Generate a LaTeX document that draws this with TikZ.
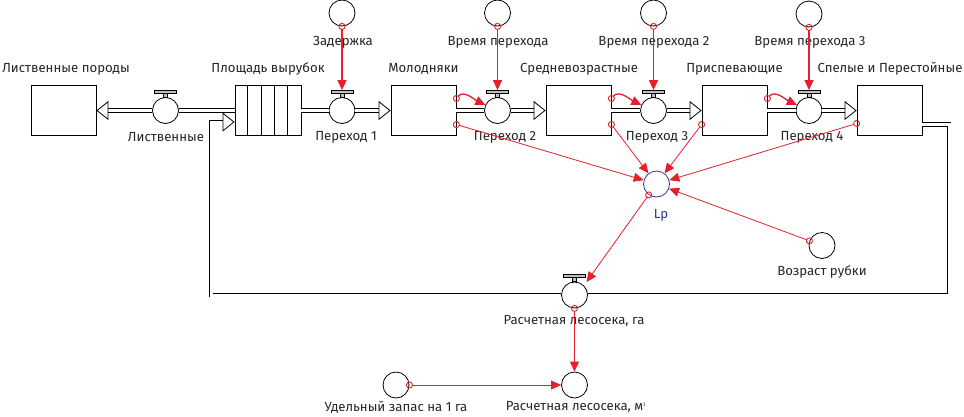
\documentclass[tikz,border=0pt]{standalone}
\usepackage{fontspec}
\setmainfont{Fira Sans}
\usepackage{tikz}
\usetikzlibrary{arrows.meta, positioning}

\definecolor{linkred}{RGB}{228,32,44}
\definecolor{lpblue}{RGB}{46,52,140}

\begin{document}
\begin{tikzpicture}[x=1pt, y=1pt, every node/.style={font=\fontsize{13.2}{15}\selectfont, text=black!85},
    stock/.style={draw, line width=0.8pt, minimum width=65pt, minimum height=50pt, inner sep=0pt},
    valve/.style={draw, circle, fill=white, line width=0.8pt, minimum size=26pt, inner sep=0pt},
    aux/.style={draw, circle, line width=0.8pt, minimum size=26pt, inner sep=0pt},
    handle/.style={draw, line width=0.6pt, fill=black!25},
    pipe/.style={draw, line width=0.7pt, double=white, double distance=3pt},
    pipehead/.style={-{Triangle[open, length=12pt, width=19pt, line width=0.8pt]}},
    link/.style={draw=linkred, line width=1.3pt, shorten <=-3.5pt,
      {Circle[open, length=7pt, width=7pt, line width=0.9pt, linkred]}-{Triangle[length=10pt, width=9pt, linkred]}},
    thinlink/.style={link, line width=0.8pt}]
  \useasboundingbox (0,0) rectangle (964,-416);
  % stocks
  \node[stock] (LP) at (63.5,-110.5) {};
  \node[stock, minimum width=66pt] (PV) at (268,-110.5) {};
  \foreach \i in {1,...,4} \draw[line width=0.8pt] ([xshift=\i*13.2pt]PV.south west) -- ([xshift=\i*13.2pt]PV.north west);
  \node[stock] (MO) at (423.5,-110.5) {};
  \node[stock] (SR) at (578.5,-110.5) {};
  \node[stock] (PR) at (734.5,-110.5) {};
  \node[stock] (SP) at (889.5,-110.5) {};
  % valves
  \node[valve] (vL) at (165.5,-110.5) {};
  \node[valve] (v1) at (342,-110.5) {};
  \node[valve] (v2) at (497.5,-110.5) {};
  \node[valve] (v3) at (653.5,-110.5) {};
  \node[valve] (v4) at (809,-110.5) {};
  \node[valve] (vR) at (574.5,-295) {};
  \foreach \v in {vL,v1,v2,v3,v4,vR} {
    \draw[handle] ([xshift=-2pt]\v.north) rectangle ([xshift=2pt,yshift=4pt]\v.north);
    \draw[handle] ([xshift=-11pt,yshift=4pt]\v.north) rectangle ([xshift=11pt,yshift=7pt]\v.north);
  }
  % auxiliaries
  \node[aux] (dZ) at (342,-13) {};
  \node[aux] (t1) at (497.5,-13) {};
  \node[aux] (t2) at (653.5,-13) {};
  \node[aux] (t3) at (809,-14) {};
  \node[aux, draw=lpblue] (Lp) at (656.5,-184) {};
  \node[aux] (age) at (822,-245.5) {};
  \node[aux] (vol) at (574.5,-385) {};
  \node[aux] (spec) at (396,-385) {};
  % labels
  \node (lLP) at (66,-69) {Лиственные породы};
  \node (lPV) at (268,-69) {Площадь вырубок};
  \node (lMO) at (423.5,-69) {Молодняки};
  \node (lSR) at (579,-69) {Средневозрастные};
  \node (lPR) at (734.5,-69) {Приспевающие};
  \node (lSP) at (890,-69) {Спелые и Перестойные};
  \node (ldZ) at (343,-42) {Задержка};
  \node (lt1) at (498,-42) {Время перехода};
  \node (lt2) at (654,-42) {Время перехода 2};
  \node (lt3) at (810,-42) {Время перехода 3};
  \node (lvL) at (166,-137) {Лиственные};
  \node (lv1) at (346,-137) {Переход 1};
  \node (lv2) at (505,-137) {Переход 2};
  \node (lv3) at (657,-137) {Переход 3};
  \node (lv4) at (812,-137) {Переход 4};
  \node[text=lpblue] (lLp) at (661,-215) {Lp};
  \node (lage) at (822,-272) {Возраст рубки};
  \node (lvR) at (574,-321) {Расчетная лесосека, га};
  \node (lspec) at (396,-407) {Удельный запас на 1 га};
  \node (lvol) at (576,-407) {Расчетная лесосека, м\textsuperscript{\tiny 3}};
  % pipes
  \draw[pipe] (PV.west) -- (vL);
  \draw[pipe, pipehead] (vL) -- (LP.east);
  \draw[pipe] (PV.east) -- (v1);
  \draw[pipe, pipehead] (v1) -- (MO.west);
  \draw[pipe] (MO.east) -- (v2);
  \draw[pipe, pipehead] (v2) -- (SR.west);
  \draw[pipe] (SR.east) -- (v3);
  \draw[pipe, pipehead] (v3) -- (PR.west);
  \draw[pipe] (PR.east) -- (v4);
  \draw[pipe, pipehead] (v4) -- (SP.west);
  \coordinate (cR) at (949,-295);
  \coordinate (cL) at (211,-295);
  \draw[pipe] ([yshift=-14pt]SP.east) -| (cR) -- (vR);
  \draw[pipe, pipehead] (vR) -- (cL) |- ([yshift=-11.5pt]PV.west);
  % links
  \draw[link] (dZ.south) -- ([yshift=7pt]v1.north);
  \draw[link] (t1.south) -- ([yshift=7pt]v2.north);
  \draw[link] (t2.south) -- ([yshift=7pt]v3.north);
  \draw[link] (t3.south) -- ([yshift=7pt]v4.north);
  \draw[link] ([yshift=12pt]MO.east) to[out=50, in=155] (v2.155);
  \draw[link] ([yshift=12pt]SR.east) to[out=50, in=155] (v3.155);
  \draw[link] ([yshift=12pt]PR.east) to[out=50, in=155] (v4.155);
  \draw[thinlink] ([yshift=-14pt]MO.east) -- (Lp);
  \draw[thinlink] ([yshift=-14pt]SR.east) -- (Lp);
  \draw[thinlink] ([yshift=-14pt]PR.west) -- (Lp);
  \draw[thinlink] ([yshift=-13pt]SP.west) -- (Lp);
  \draw[thinlink] (age) -- (Lp);
  \draw[thinlink] (Lp) -- ([xshift=12pt,yshift=13pt]vR.center);
  \draw[thinlink] (vR) -- (vol);
  \draw[thinlink] (spec) -- (vol);
\end{tikzpicture}
\end{document}
